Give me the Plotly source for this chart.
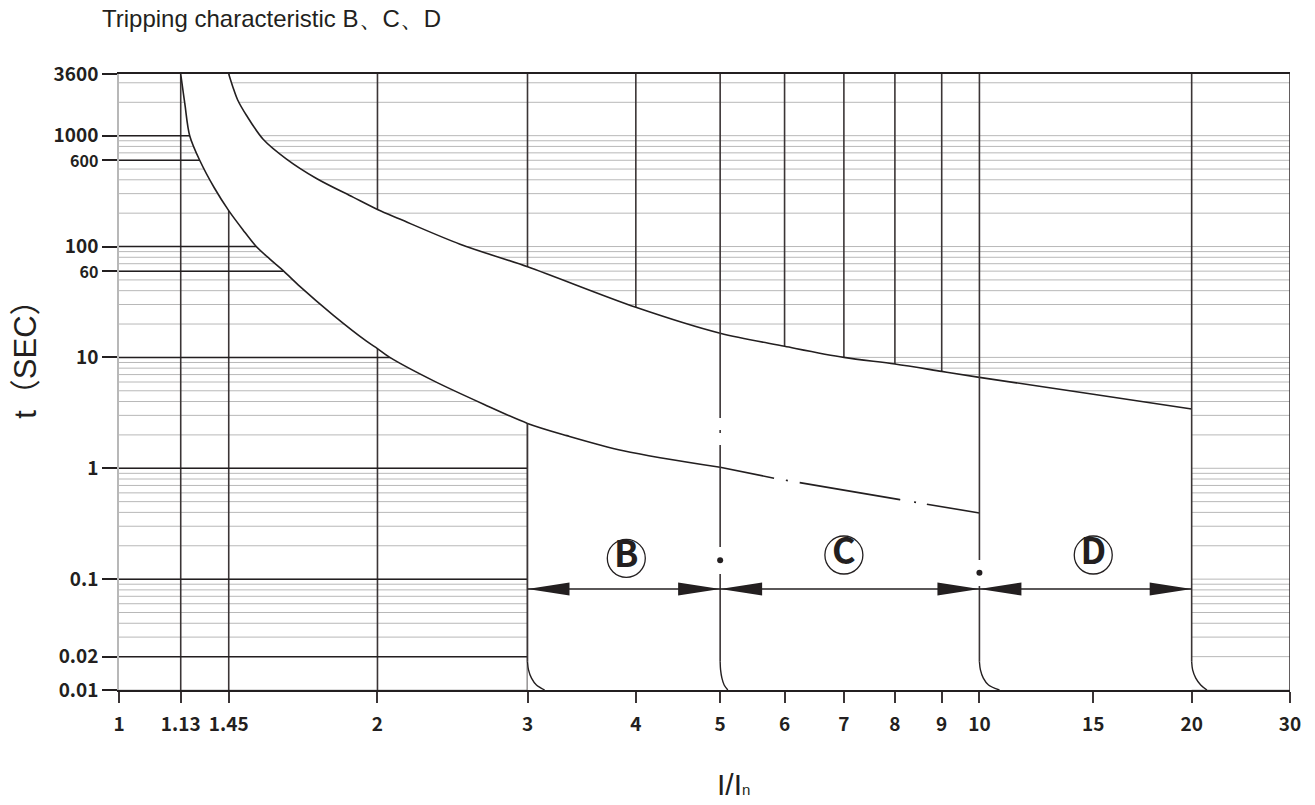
import numpy as np
import plotly.graph_objects as go

# x axis: I/In values and where they sit along the printed (non-uniform) scale
x_tick_vals = [1, 1.13, 1.45, 2, 3, 4, 5, 6, 7, 8, 9, 10, 15, 20, 30]
x_tick_pos = [0, 61.7, 109.7, 258.4, 408.4, 516.7, 601.0, 665.4, 724.7, 775.7, 822.5, 860.2, 974.0, 1072.4, 1170.7]
x_tick_text = ["1", "1.13", "1.45", "2", "3", "4", "5", "6", "7", "8", "9", "10", "15", "20", "30"]

# y axis: t in seconds (log)
y_tick_vals = [3600, 1000, 600, 100, 60, 10, 1, 0.1, 0.02, 0.01]
y_tick_text = ["3600", "1000", "600", "100", "60", "10", "1", "0.1", "0.02", "0.01"]
y_small_ticks = ["600", "60"]

# tripping band: upper (thermal max) and lower (thermal min) limits
upper_i = [1.45, 1.463, 1.478, 1.507, 1.562, 1.643, 1.753, 1.897, 2.0, 2.124, 2.5, 3,
           4, 5, 6, 7, 8, 9, 10, 15, 20]
upper_t = [3600, 2750, 2110, 1520, 928, 615, 411, 279, 216, 177, 105, 65.7,
           28.3, 16.5, 12.6, 10, 8.72, 7.48, 6.6, 4.66, 3.43]

lower_i = [1.13, 1.154, 1.184, 1.247, 1.345, 1.45, 1.495, 1.539, 1.585, 1.633, 1.691, 1.816,
           1.953, 2.0, 2.068, 2.325, 2.661, 3, 3.33, 3.87, 5, 5.87, 8.1, 10]
lower_t = [3600, 1963, 1000, 600, 339, 211, 142, 100, 77, 60, 43.7, 24.2,
           14.0, 12.0, 10, 6.17, 3.80, 2.54, 1.97, 1.44, 1.02, 0.804, 0.521, 0.395]

# instantaneous release "feet" at the bottom of each band edge
foot_t = [0.018, 0.0152, 0.0128, 0.0111, 0.01]
foot_b = [3, 3.008, 3.032, 3.072, 3.14]
foot_c = [5, 5.006, 5.025, 5.057, 5.11]
foot_d = [10, 10.036, 10.14, 10.33, 10.74]
foot_20 = [20, 20.08, 20.34, 20.76, 21.3]

band_names = ["B", "C", "D"]
band_label_i = [3.9, 7, 15]
band_label_t = [0.154, 0.165, 0.165]
band_edges = [3, 5, 10, 20]
arrow_t = 0.0815
dot_i = [5, 10]
dot_t = [0.148, 0.114]

dark_rows = [1000, 600, 100, 60, 10, 1, 0.1, 0.02]
dark_cols = [1.13, 1.45, 2, 3, 4, 6, 7, 8, 9]
grid_rows = [k * 10.0 ** d for d in range(-2, 4) for k in range(1, 10) if k * 10.0 ** d < 3600]

INK = "#231f20"
LINE = "#3b3536"
GRID = "#b8b8b8"
CJK = "Noto Sans CJK SC"
SMOOTH = 0.9


def xp(v):
    return np.interp(np.log10(v), np.log10(x_tick_vals), x_tick_pos)


def segs(pairs):
    xs, ys = [], []
    for x0, y0, x1, y1 in pairs:
        xs += [x0, x1, None]
        ys += [y0, y1, None]
    return xs, ys


def line(x, y, color=INK, width=1.6, dash="solid", shape="linear"):
    ln = dict(color=color, width=width, dash=dash, shape=shape)
    if shape == "spline":
        ln["smoothing"] = SMOOTH
    return go.Scatter(x=x, y=y, mode="lines", hoverinfo="skip", line=ln)


x_max = x_tick_pos[-1]
lower_pos = xp(lower_i)
k3 = lower_i.index(3)
k5 = lower_i.index(5)

fig = go.Figure()

# light grid rows
gx, gy = segs([(0, t, x_max, t) for t in grid_rows])
fig.add_trace(line(gx, gy, GRID, 1))

# dark grid columns and rows (left part of the chart)
cx, cy = segs([(xp(v), 0.01, xp(v), 3600) for v in dark_cols])
fig.add_trace(line(cx, cy, LINE, 1.6))
rows = []
for v in dark_rows:
    cross = np.interp(np.log10(v), np.log10(lower_t)[::-1], lower_pos[::-1])
    rows.append((0, v, min(cross + 8, xp(3)), v))
rx, ry = segs(rows)
fig.add_trace(line(rx, ry, INK, 1.5))

# white tripping area: band between the curves, then the block under the upper curve
fig.add_trace(go.Scatter(x=lower_pos[:k3 + 1], y=lower_t[:k3 + 1], mode="lines", hoverinfo="skip",
                         line=dict(width=0, color="white", shape="spline", smoothing=SMOOTH)))
fig.add_trace(go.Scatter(x=xp(upper_i), y=upper_t, mode="lines", hoverinfo="skip",
                         fill="tonexty", fillcolor="white",
                         line=dict(width=0, color="white", shape="spline", smoothing=SMOOTH)))
fig.add_trace(go.Scatter(x=[xp(3), xp(3), xp(20), xp(20)], y=[0.01, 10, upper_t[-1], 0.01],
                         mode="lines", fill="toself", fillcolor="white", hoverinfo="skip",
                         line=dict(width=0, color="white")))

# curves
fig.add_trace(line(xp(upper_i), upper_t, shape="spline"))
fig.add_trace(line(lower_pos[:k5 + 1], lower_t[:k5 + 1], shape="spline"))
fig.add_trace(line(lower_pos[k5:], lower_t[k5:], dash="55px,12px,2px,12px,102px,14px,2px,11px,300px"))

# band edges
fig.add_trace(line([xp(3)] * 2, [lower_t[k3], foot_t[0]], LINE))
fig.add_trace(line([xp(5)] * 2, [3600, foot_t[0]], LINE, dash="344px,12px,3px,12px,102px,27px,400px"))
fig.add_trace(line([xp(10)] * 2, [3600, foot_t[0]], LINE, dash="486px,26px,400px"))
fig.add_trace(line([xp(20)] * 2, [3600, foot_t[0]], LINE))
fig.add_trace(line([x_max] * 2, [0.01, 3600], LINE))
for foot in [foot_b, foot_c, foot_d, foot_20]:
    fig.add_trace(line(xp(foot), foot_t, INK, 1.4, shape="spline"))

# band arrows, dots and labels
fig.add_trace(line([xp(band_edges[0]), xp(band_edges[-1])], [arrow_t] * 2, INK, 1.3))
fig.add_trace(go.Scatter(x=xp(dot_i), y=dot_t, mode="markers", hoverinfo="skip",
                         marker=dict(color=INK, size=6)))
fig.add_trace(go.Scatter(x=xp(band_label_i), y=band_label_t, mode="markers+text", hoverinfo="skip",
                         text=band_names, textposition="middle center",
                         textfont=dict(family=CJK, size=36, color=INK, weight="bold"),
                         marker=dict(symbol="circle-open", size=38, color=INK, line=dict(width=1.3, color=INK))))

shapes = []
for k, edge in enumerate(band_edges):
    heads = []
    if k > 0:
        heads.append("M0,0 L-42,6.5 L-42,-6.5 Z")
    if k < len(band_edges) - 1:
        heads.append("M0,0 L42,6.5 L42,-6.5 Z")
    for path in heads:
        shapes.append(dict(type="path", xref="x", yref="y", xsizemode="pixel", ysizemode="pixel",
                           xanchor=xp(edge), yanchor=arrow_t, path=path,
                           fillcolor=INK, line=dict(width=0), layer="above"))

y_text = ['<span style="font-size:16px">%s</span>' % s if s in y_small_ticks else s for s in y_tick_text]

fig.update_layout(
    width=1315, height=805,
    margin=dict(l=119, r=25, t=74, b=115),
    paper_bgcolor="white", plot_bgcolor="white",
    showlegend=False,
    shapes=shapes,
    title=dict(text="Tripping characteristic B、C、D", xref="container", x=102 / 1315, xanchor="left",
               yref="container", y=1 - 19 / 805, yanchor="middle",
               font=dict(family="Liberation Sans", size=24, color=INK)),
    xaxis=dict(range=[0, x_max], tickvals=x_tick_pos, ticktext=x_tick_text,
               ticks="outside", ticklen=11, tickwidth=1.5, tickcolor=LINE,
               ticklabelstandoff=5,
               tickfont=dict(family=CJK, size=19, color=INK, weight="bold"),
               showgrid=False, zeroline=False, showline=True, mirror=True,
               linecolor=INK, linewidth=1.5),
    yaxis=dict(type="log", range=[-2, np.log10(3600)], tickvals=y_tick_vals, ticktext=y_text,
               ticks="outside", ticklen=15, tickwidth=1.5, tickcolor=INK,
               tickfont=dict(family=CJK, size=19, color=INK, weight="bold"),
               showgrid=False, zeroline=False, showline=True, linecolor=GRID, linewidth=1.5),
    annotations=[
        dict(text="t（SEC）", xref="paper", yref="paper", x=-0.0794, y=0.549,
             xanchor="center", yanchor="middle", textangle=-90, showarrow=False,
             font=dict(family="Liberation Sans, " + CJK, size=31, color=INK)),
        dict(text='I/I<span style="font-size:15px">n</span>', xref="paper", yref="paper",
             x=0.525, y=-0.1526, xanchor="center", yanchor="middle", showarrow=False,
             font=dict(family="Liberation Sans", size=30, color=INK)),
    ],
)

# drop the default 8px page margin so the 1315x805 figure fills the window
fig.write_html("out.html", config={"displayModeBar": False},
               post_script="document.body.style.margin = '0';")
